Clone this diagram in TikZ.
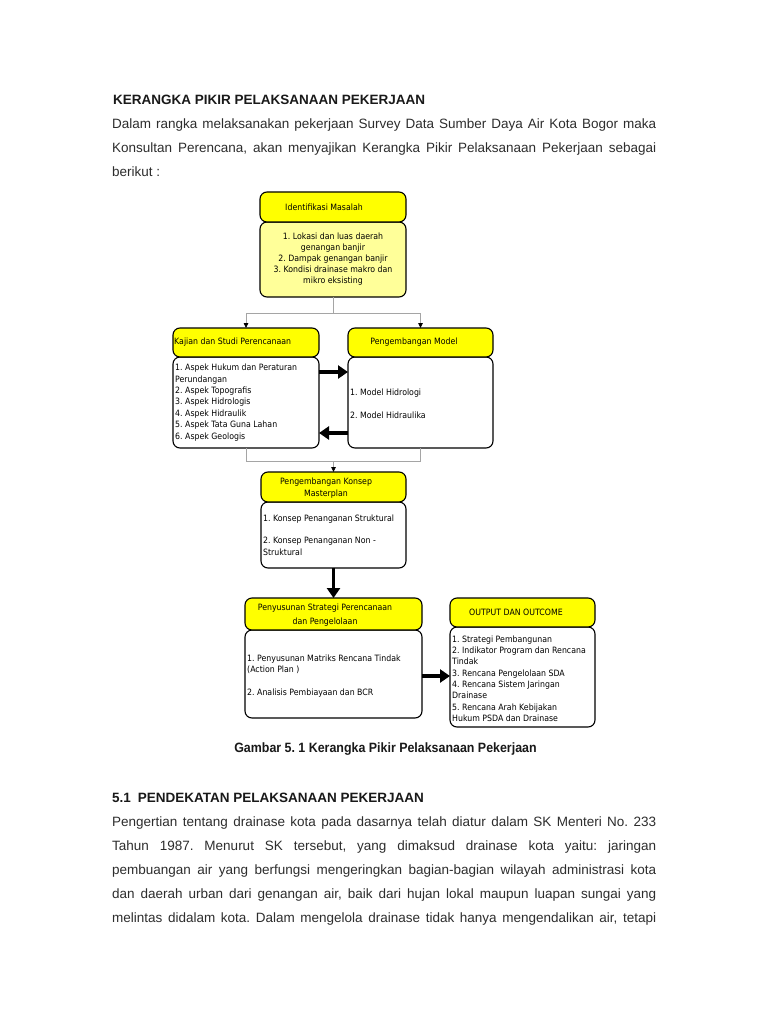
\documentclass[tikz,border=0pt]{standalone}
\usepackage{fontspec}
\setmainfont{Liberation Sans}
\newfontfamily\dgfont[FakeStretch=0.9]{DejaVu Sans}
\usetikzlibrary{arrows.meta}
\definecolor{hdrY}{RGB}{255,255,0}
\definecolor{bodyYc}{RGB}{255,255,153}
\definecolor{txt}{RGB}{45,45,45}
\definecolor{connG}{RGB}{165,165,165}
\frenchspacing
\begin{document}
\frenchspacing
\begin{tikzpicture}[x=1pt,y=-1pt,
  hdr/.style={draw=black, line width=1.1pt, rounded corners=7pt, fill=hdrY, inner sep=0pt, outer sep=0pt},
  bodyW/.style={draw=black, line width=1.1pt, rounded corners=7pt, fill=white, inner sep=0pt, outer sep=0pt},
  bodyY/.style={bodyW, fill=bodyYc},
  dtext/.style={font=\dgfont\fontsize{8.7}{11.4}\selectfont, inner sep=0pt, text=black},
  ptext/.style={font=\fontsize{13.5}{24}\selectfont, inner sep=0pt, text=txt, anchor=base west},
  conn/.style={draw=connG, line width=0.8pt},
  connarr/.style={conn, -{Triangle[length=5pt,width=4.5pt,color=black]}},
  bigarr/.style={draw=black, line width=3.6pt, -{Triangle[length=10pt,width=13pt]}}
]
\useasboundingbox[fill=white] (0,0) rectangle (768,1024);

% ---- top text ----
\node[ptext, font=\fontsize{13.5}{24}\selectfont\bfseries, text=black!90] (title) at (113,105) {KERANGKA PIKIR PELAKSANAAN PEKERJAAN};
\node[ptext] (p1) at (112,129) {\makebox[544pt][s]{Dalam rangka melaksanakan pekerjaan Survey Data Sumber Daya Air Kota Bogor maka}};
\node[ptext] (p2) at (112,153) {\makebox[544pt][s]{Konsultan Perencana, akan menyajikan Kerangka Pikir Pelaksanaan Pekerjaan sebagai}};
\node[ptext] (p3) at (112,177) {berikut :};

% ---- boxes ----
\node[bodyY, minimum width=146pt, minimum height=75pt] (b1) at (333,259.5) {};
\node[hdr, minimum width=146pt, minimum height=30pt] (h1) at (333,207) {};
\node[dtext] (t1h) at (324,207.5) {Identifikasi Masalah};
\node[dtext, align=center, font=\dgfont\fontsize{8.7}{11}\selectfont] (t1) at (333,259.5) {1. Lokasi dan luas daerah\\genangan banjir\\2. Dampak genangan banjir\\3. Kondisi drainase makro dan\\mikro eksisting};

\node[bodyW, minimum width=146pt, minimum height=91pt] (b2) at (246,402.5) {};
\node[hdr, minimum width=146pt, minimum height=29pt] (h2) at (246,342.5) {};
\node[dtext, anchor=west] (t2h) at (174,342.5) {Kajian dan Studi Perencanaan};
\node[dtext, anchor=west, align=left] (t2) at (175,402.5) {1. Aspek Hukum dan Peraturan\\Perundangan\\2. Aspek Topografis\\3. Aspek Hidrologis\\4. Aspek Hidraulik\\5. Aspek Tata Guna Lahan\\6. Aspek Geologis};

\node[bodyW, minimum width=145pt, minimum height=91pt] (b3) at (420.5,402.5) {};
\node[hdr, minimum width=145pt, minimum height=29pt] (h3) at (420.5,342.5) {};
\node[dtext] (t3h) at (414,342.5) {Pengembangan Model};
\node[dtext, anchor=west, align=left] (t3) at (350,403.5) {1. Model Hidrologi\\[11.4pt]2. Model Hidraulika};

\node[bodyW, minimum width=145pt, minimum height=66pt] (b4) at (333.5,535) {};
\node[hdr, minimum width=145pt, minimum height=30pt] (h4) at (333.5,487) {};
\node[dtext, align=center] (t4h) at (326,488) {Pengembangan Konsep\\Masterplan};
\node[dtext, anchor=west, align=left] (t4) at (263,535) {1. Konsep Penanganan Struktural\\[11.4pt]2. Konsep Penanganan Non -\\Struktural};

\node[bodyW, minimum width=177pt, minimum height=88pt] (b5) at (333.5,674) {};
\node[hdr, minimum width=177pt, minimum height=32pt] (h5) at (333.5,614) {};
\node[dtext, align=center, font=\dgfont\fontsize{8.7}{14}\selectfont] (t5h) at (325,615) {Penyusunan Strategi Perencanaan\\dan Pengelolaan};
\node[dtext, anchor=west, align=left] (t5) at (247,676) {1. Penyusunan Matriks Rencana Tindak\\(Action Plan )\\[11.4pt]2. Analisis Pembiayaan dan BCR};

\node[bodyW, minimum width=145pt, minimum height=100pt] (b6) at (522.5,677) {};
\node[hdr, minimum width=145pt, minimum height=29pt] (h6) at (522.5,612.5) {};
\node[dtext] (t6h) at (516,612.5) {OUTPUT DAN OUTCOME};
\node[dtext, anchor=west, align=left, font=\dgfont\fontsize{8.7}{11.3}\selectfont] (t6) at (452,678.5) {1. Strategi Pembangunan\\2. Indikator Program dan Rencana\\Tindak\\3. Rencana Pengelolaan SDA\\4. Rencana Sistem Jaringan\\Drainase\\5. Rencana Arah Kebijakan\\Hukum PSDA dan Drainase};

% ---- connectors ----
\draw[conn] (b1.south) -- ++(0,16) coordinate (j1);
\draw[connarr] (j1) -| (h2.north);
\draw[connarr] (j1) -| (h3.north);
\draw[conn] (b2.south) -- ++(0,13) coordinate (j2a) -| (b3.south);
\coordinate (j2) at (333.5,461);
\draw[connarr] (j2) -- (h4.north);

\draw[bigarr] ([yshift=30.5pt]b2.east) -- ([yshift=30.5pt]b3.west);
\draw[bigarr] ([yshift=-30.5pt]b3.west) -- ([yshift=-30.5pt]b2.east);
\draw[bigarr] (b4.south) -- (h5.north);
\draw[bigarr] ([yshift=-2pt]b5.east) -- ([yshift=-2pt]b5.east -| b6.west);

% ---- caption and following text ----
\node[anchor=base, inner sep=0pt, font=\fontsize{13.5}{24}\selectfont\bfseries, text=black!90] (cap) at (385.5,752) {\scalebox{0.92}[1]{Gambar 5. 1 Kerangka Pikir Pelaksanaan Pekerjaan}};
\node[ptext, font=\fontsize{13.5}{24}\selectfont\bfseries, text=black!90] (sec) at (112,802) {5.1\hspace{7pt}PENDEKATAN PELAKSANAAN PEKERJAAN};
\node[ptext] (q1) at (112,826) {\makebox[544pt][s]{Pengertian tentang drainase kota pada dasarnya telah diatur dalam SK Menteri No. 233}};
\node[ptext] (q2) at (112,850) {\makebox[544pt][s]{Tahun 1987. Menurut SK tersebut, yang dimaksud drainase kota yaitu: jaringan}};
\node[ptext] (q3) at (112,874) {\makebox[544pt][s]{pembuangan air yang berfungsi mengeringkan bagian-bagian wilayah administrasi kota}};
\node[ptext] (q4) at (112,898) {\makebox[544pt][s]{dan daerah urban dari genangan air, baik dari hujan lokal maupun luapan sungai yang}};
\node[ptext] (q5) at (112,922) {\makebox[544pt][s]{melintas didalam kota. Dalam mengelola drainase tidak hanya mengendalikan air, tetapi}};
\end{tikzpicture}
\end{document}
